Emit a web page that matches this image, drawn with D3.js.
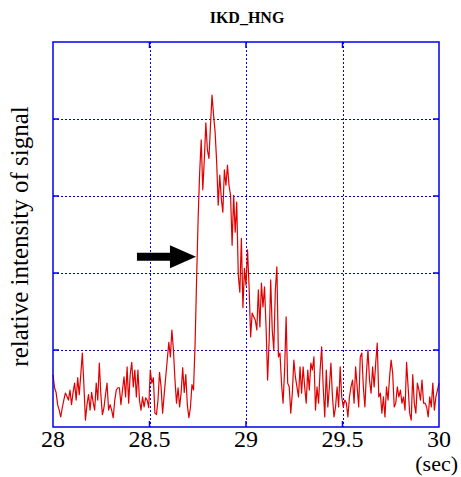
<!DOCTYPE html>
<html>
<head>
<meta charset="utf-8">
<script src="https://cdn.jsdelivr.net/npm/d3@7.9.0/dist/d3.min.js"></script>
<style>
  html, body { margin: 0; padding: 0; background: #fff; }
  svg { display: block; font-family: "Liberation Serif", "DejaVu Serif", serif; }
</style>
</head>
<body>
<div id="chart"></div>
<script>
// waveform sampled every 8 ms starting at 28 s
const startTime  = 28;
const sampleStep = 0.008;
const signal = [
  0.68, 0.51, 0.45, 0.29, 0.22, 0.13, 0.25, 0.35, 0.44, 0.40,
  0.35, 0.48, 0.29, 0.45, 0.57, 0.35, 0.64, 0.42, 0.68, 0.96,
  0.55, 0.09, 0.29, 0.42, 0.22, 0.45, 0.32, 0.22, 0.57, 0.35,
  0.83, 0.42, 0.16, 0.25, 0.42, 0.57, 0.22, 0.29, 0.22, 0.12,
  0.35, 0.48, 0.51, 0.51, 0.29, 0.48, 0.65, 0.39, 0.78, 0.31,
  0.68, 0.84, 0.52, 0.74, 0.39, 0.74, 0.35, 0.22, 0.39, 0.26,
  0.38, 0.35, 0.25, 0.74, 0.57, 0.64, 0.18, 0.16, 0.35, 0.71,
  0.52, 0.18, 0.42, 0.65, 0.87, 1.10, 0.91, 1.26, 1.00, 0.61,
  0.31, 0.51, 0.26, 0.45, 0.77, 0.45, 0.68, 0.29, 0.12, 0.25,
  0.55, 0.48, 1.06, 1.91, 2.71, 3.31, 3.73, 3.08, 3.47, 3.95,
  3.60, 3.49, 3.92, 4.31, 4.05, 3.83, 3.44, 2.88, 3.27, 2.97,
  2.79, 3.34, 3.14, 3.40, 3.14, 3.01, 2.36, 3.01, 2.53, 2.92,
  1.97, 1.75, 2.45, 1.55, 2.06, 1.84, 2.30, 1.82, 1.17, 1.48,
  1.43, 1.39, 1.26, 1.78, 1.30, 1.87, 1.56, 1.82, 1.30, 0.61,
  1.13, 1.91, 1.26, 1.00, 1.78, 2.08, 0.91, 0.96, 0.57, 0.31,
  0.74, 1.43, 0.57, 0.52, 0.18, 0.44, 0.87, 0.65, 0.52, 0.39,
  0.78, 0.44, 0.78, 0.52, 0.31, 0.74, 0.48, 0.83, 0.74, 0.91,
  0.22, 0.52, 0.31, 0.74, 1.04, 0.52, 0.13, 0.74, 0.26, 0.52,
  0.83, 0.39, 0.13, 0.26, 0.52, 0.26, 0.78, 0.39, 0.26, 0.35,
  0.31, 0.13, 0.39, 0.52, 0.61, 0.31, 0.78, 0.52, 0.26, 0.91,
  0.96, 0.52, 0.26, 0.70, 1.00, 0.61, 0.44, 0.78, 0.52, 0.83,
  1.09, 0.39, 0.44, 0.18, 0.39, 0.13, 0.52, 0.35, 0.65, 0.87,
  0.70, 0.26, 0.31, 0.52, 0.39, 0.48, 0.31, 0.39, 0.22, 0.84,
  0.52, 0.18, 0.09, 0.68, 0.31, 0.18, 0.57, 0.48, 0.35, 0.61,
  0.31, 0.31, 0.26, 0.13, 0.39, 0.26, 0.57, 0.22, 0.39, 0.48, 0.57
];
const xTicks = [28, 28.5, 29, 29.5, 30];
const yGrid  = [1, 2, 3, 4];
const title  = 'IKD_HNG';
const yLabel = 'relative intensity of signal';
const xUnit  = '(sec)';
// arrow: [tail time, head-base time, tip time] at level arrowLevel
const arrowTimes = [28.435, 28.606, 28.741];
const arrowLevel = 2.21;

const W = 461, H = 477, M = {t:42, r:22, b:50, l:53};

const x = d3.scaleLinear().domain([28, 30]).range([M.l, W - M.r]);
const y = d3.scaleLinear().domain([0, 5]).range([H - M.b, M.t]);

const svg = d3.select('#chart').append('svg')
  .attr('width', W).attr('height', H);

// grid
const grid = svg.append('g').attr('stroke', '#0000ee').attr('stroke-width', 1)
  .attr('stroke-dasharray', '2,2').attr('fill', 'none');
grid.selectAll('line.v').data(xTicks.slice(1, -1)).join('line').attr('class', 'v')
  .attr('x1', d => Math.round(x(d)) + 0.5).attr('x2', d => Math.round(x(d)) + 0.5)
  .attr('y1', y(5)).attr('y2', y(0));
grid.selectAll('line.h').data(yGrid).join('line').attr('class', 'h')
  .attr('y1', d => Math.round(y(d)) + 0.5).attr('y2', d => Math.round(y(d)) + 0.5)
  .attr('x1', x(28)).attr('x2', x(30));

// signal
const line = d3.line()
  .x((d, i) => x(startTime + i * sampleStep))
  .y(d => y(d));
svg.append('path').datum(signal)
  .attr('d', line)
  .attr('fill', 'none')
  .attr('stroke', '#e00000')
  .attr('stroke-width', 1.2)
  .attr('stroke-linejoin', 'round');

// frame + inward ticks
svg.append('rect')
  .attr('x', x(28)).attr('y', y(5))
  .attr('width', x(30) - x(28)).attr('height', y(0) - y(5))
  .attr('fill', 'none').attr('stroke', '#0000ee').attr('stroke-width', 1.5);

const tk = svg.append('g').attr('stroke', '#0000ee').attr('stroke-width', 1.5);
xTicks.slice(1, -1).forEach(t => {
  tk.append('line').attr('x1', x(t)).attr('x2', x(t)).attr('y1', y(0)).attr('y2', y(0) - 6);
  tk.append('line').attr('x1', x(t)).attr('x2', x(t)).attr('y1', y(5)).attr('y2', y(5) + 6);
});
yGrid.forEach(v => {
  tk.append('line').attr('y1', y(v)).attr('y2', y(v)).attr('x1', x(28)).attr('x2', x(28) + 6);
  tk.append('line').attr('y1', y(v)).attr('y2', y(v)).attr('x1', x(30)).attr('x2', x(30) - 6);
});

// x tick labels
svg.append('g').selectAll('text').data(xTicks).join('text')
  .attr('x', d => x(d)).attr('y', y(0) + 20)
  .attr('text-anchor', 'middle')
  .attr('font-size', 24)
  .text(d => d);

svg.append('text')
  .attr('x', W - 3).attr('y', H - 6)
  .attr('text-anchor', 'end').attr('font-size', 22)
  .text(xUnit);

// y label
svg.append('text')
  .attr('transform', `translate(28,${(y(0) + y(5)) / 2 + 2}) rotate(-90)`)
  .attr('text-anchor', 'middle').attr('font-size', 25)
  .text(yLabel);

// title
svg.append('text')
  .attr('x', (x(28) + x(30)) / 2 + 1).attr('y', 23)
  .attr('text-anchor', 'middle').attr('font-size', 16).attr('font-weight', 'bold')
  .text(title);

// arrow
const [ta, tb, tc] = arrowTimes;
const ay = y(arrowLevel);
const sh = 4, hh = 11.5;
svg.append('path')
  .attr('d', `M${x(ta)},${ay - sh}L${x(tb)},${ay - sh}L${x(tb)},${ay - hh}L${x(tc)},${ay}` +
             `L${x(tb)},${ay + hh}L${x(tb)},${ay + sh}L${x(ta)},${ay + sh}Z`)
  .attr('fill', '#000');
</script>
</body>
</html>
